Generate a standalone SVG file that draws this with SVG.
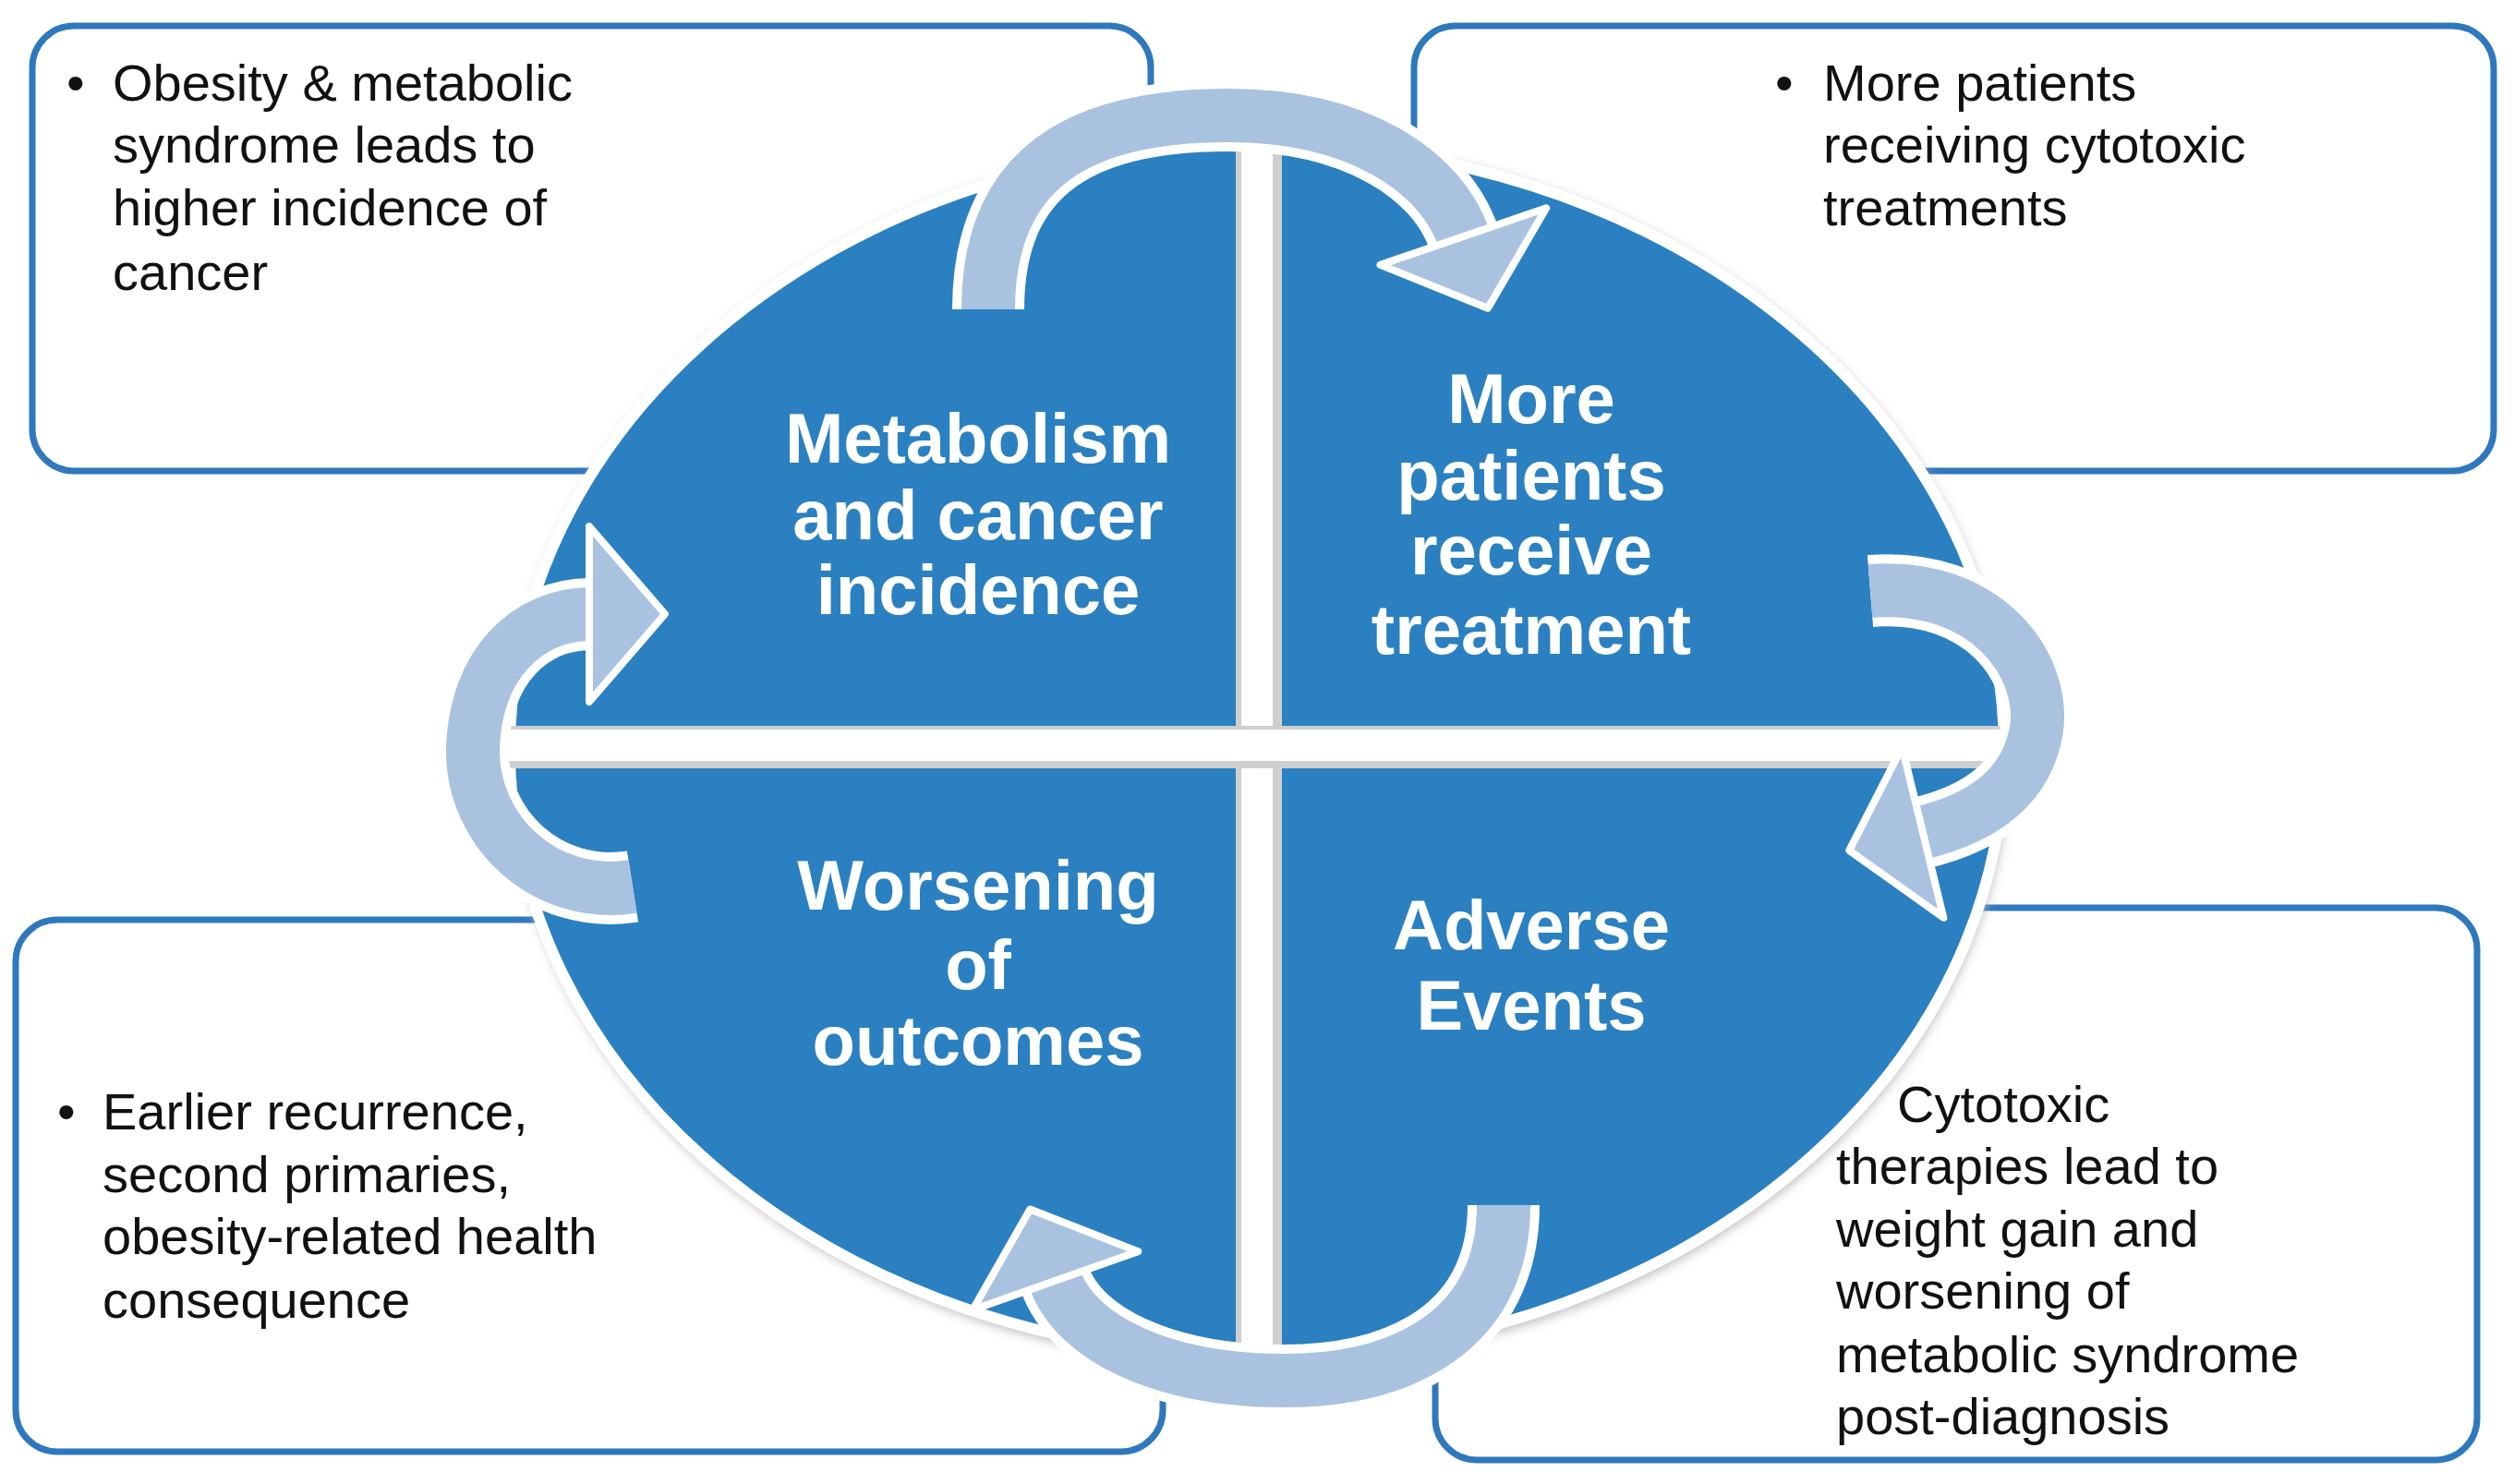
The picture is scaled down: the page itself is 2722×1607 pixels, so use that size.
<svg xmlns="http://www.w3.org/2000/svg" width="2722" height="1607" viewBox="0 0 2722 1607">
<defs>
<style>
.box{fill:#fff;stroke:#2e78bd;stroke-width:7}
.bt{font-family:"Liberation Sans",Arial,sans-serif;font-size:56px;fill:#111}
.ct{font-family:"Liberation Sans",Arial,sans-serif;font-size:76px;font-weight:bold;fill:#fff;text-anchor:middle}
.aw{fill:none;stroke:#fff;stroke-width:78}
.ab{fill:none;stroke:#a9c2df;stroke-width:58;marker-end:url(#head)}
</style>
<marker id="head" markerUnits="userSpaceOnUse" viewBox="-10 -110 110 220" refX="0" refY="0" markerWidth="110" markerHeight="220" orient="auto" overflow="visible">
<path d="M-2,-95 L80,0 L-2,95 Z" fill="#a9c2df" stroke="#fff" stroke-width="8" stroke-linejoin="round"/>
</marker>
<filter id="sh" x="-10%" y="-10%" width="120%" height="120%"><feGaussianBlur stdDeviation="6"/></filter>
</defs>
<rect width="2722" height="1607" fill="#fff"/>
<g id="box-tl"><rect class="box" x="35" y="28" width="1211" height="482" rx="45"/>
<text class="bt" x="72" y="109">•</text>
<text class="bt"><tspan x="122" y="109">Obesity &amp; metabolic</tspan><tspan x="122" y="176">syndrome leads to</tspan><tspan x="122" y="244">higher incidence of</tspan><tspan x="122" y="314">cancer</tspan></text></g>
<g id="box-tr"><rect class="box" x="1531" y="28" width="1169" height="482" rx="45"/>
<text class="bt" x="1922" y="109">•</text>
<text class="bt"><tspan x="1974" y="109">More patients</tspan><tspan x="1974" y="176">receiving cytotoxic</tspan><tspan x="1974" y="244">treatments</tspan></text></g>
<g id="box-bl"><rect class="box" x="17" y="996" width="1242" height="576" rx="45"/>
<text class="bt" x="62" y="1223">•</text>
<text class="bt"><tspan x="111" y="1223">Earlier recurrence,</tspan><tspan x="111" y="1291">second primaries,</tspan><tspan x="111" y="1358">obesity-related health</tspan><tspan x="111" y="1427">consequence</tspan></text></g>
<g id="box-br"><rect class="box" x="1554" y="983" width="1128" height="598" rx="45"/>
<text class="bt"><tspan x="2054" y="1215">Cytotoxic</tspan><tspan x="1988" y="1282">therapies lead to</tspan><tspan x="1988" y="1350">weight gain and</tspan><tspan x="1988" y="1417">worsening of</tspan><tspan x="1988" y="1486">metabolic syndrome</tspan><tspan x="1988" y="1553">post-diagnosis</tspan></text></g>
<g id="circle">
<ellipse cx="1363" cy="816" rx="812" ry="662" fill="#bbb" filter="url(#sh)"/>
<ellipse cx="1361" cy="812" rx="809" ry="657" fill="#2a80c1" stroke="#fff" stroke-width="12"/>
<rect x="1338" y="140" width="50" height="1340" fill="#cfcfcf"/>
<rect x="1344" y="140" width="34" height="1340" fill="#fff"/>
<rect x="540" y="786" width="1640" height="46" fill="#cfcfcf"/>
<rect x="540" y="790" width="1640" height="34" fill="#fff"/>
</g>
<g id="q-tl"><text class="ct"><tspan x="1059" y="501">Metabolism</tspan><tspan x="1059" y="584">and cancer</tspan><tspan x="1059" y="665">incidence</tspan></text></g>
<g id="q-tr"><text class="ct"><tspan x="1658" y="458">More</tspan><tspan x="1658" y="541">patients</tspan><tspan x="1658" y="622">receive</tspan><tspan x="1658" y="708">treatment</tspan></text></g>
<g id="q-bl"><text class="ct"><tspan x="1059" y="985">Worsening</tspan><tspan x="1059" y="1071">of</tspan><tspan x="1059" y="1153">outcomes</tspan></text></g>
<g id="q-br"><text class="ct"><tspan x="1658" y="1028">Adverse</tspan><tspan x="1658" y="1115">Events</tspan></text></g>
<g id="connectors">
<path class="aw" d="M1070 335 C1070 160 1200 125 1330 125 C1470 125 1560 185 1585 258"/>
<path class="ab" d="M1070 335 C1070 160 1200 125 1330 125 C1470 125 1560 185 1585 258"/>
<path class="aw" d="M2025 640 C2150 630 2215 720 2205 790 C2195 850 2150 885 2080 902"/>
<path class="ab" d="M2025 640 C2150 630 2215 720 2205 790 C2195 850 2150 885 2080 902"/>
<path class="aw" d="M685 960 C590 975 510 900 512 810 C515 720 570 665 640 665"/>
<path class="ab" d="M685 960 C590 975 510 900 512 810 C515 720 570 665 640 665"/>
<path class="aw" d="M1628 1305 C1628 1440 1520 1495 1390 1495 C1260 1495 1165 1450 1142 1385"/>
<path class="ab" d="M1628 1305 C1628 1440 1520 1495 1390 1495 C1260 1495 1165 1450 1142 1385"/>
</g>
</svg>
